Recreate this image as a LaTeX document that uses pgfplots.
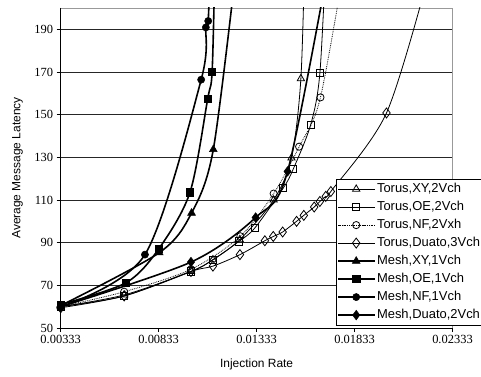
\documentclass[border=0pt]{standalone}
\usepackage{pgfplots}
\pgfplotsset{compat=1.18}
\usepackage{fontspec}
\setmainfont{Liberation Sans}
\newfontfamily\serifnum{Liberation Serif}
\begin{document}
\begin{tikzpicture}
\begin{axis}[
  at={(0,0)}, anchor=south west,
  scale only axis, width=391.8bp, height=320bp,
  xmin=0.00333, xmax=0.02333, ymin=50, ymax=200,
  xtick={0.00333,0.00833,0.01333,0.01833,0.02333},
  xticklabels={0.00333,0.00833,0.01333,0.01833,0.02333},
  scaled x ticks=false,
  ytick={50,70,...,190},
  /pgf/number format/assume math mode=true,
  tick label style={font=\fontsize{12.5}{14}\serifnum},
  tick align=outside, xtick pos=bottom, ytick pos=left,
  major tick length=4bp,
  tick style={black, line width=0.8bp},
  axis line style={draw=black!40, line width=0.8bp},
  ymajorgrids, grid style={black!85, line width=0.8bp},
  xlabel={Injection Rate}, ylabel={Average Message Latency},
  label style={font=\fontsize{12}{14}\selectfont},
  xlabel style={at={(axis description cs:0.5,-0.1125)}, anchor=center},
  ylabel style={at={(axis description cs:-0.11,0.5)}, anchor=center, rotate=0},
  legend style={at={(axis description cs:0.7027,0.4666)}, anchor=north west,
    draw=black, line width=0.8bp, fill=white, inner sep=1bp,
    font=\fontsize{13}{15}\selectfont,
    nodes={inner ysep=2.5bp, text height=10bp, text depth=3bp}},
  legend cell align=left,
  legend image code/.code={\draw[mark repeat=2,mark phase=2,#1] plot coordinates {(0bp,0bp) (18bp,0bp) (36bp,0bp)};},
  every axis plot/.append style={smooth, tension=0.5, black},
]
% Torus XY
\addplot[line width=0.8bp, mark=triangle, mark size=4.2bp, mark options={solid, fill=white, line width=0.8bp}] coordinates {
(0.00333,60) (0.00657,65.5) (0.00998,76.5) (0.0111,82) (0.01247,91.4) (0.0142,110) (0.01511,129.7) (0.01559,166.9) (0.0158,230)};
\addlegendentry{Torus,XY,2Vch}
% Torus OE
\addplot[line width=0.8bp, mark=square, mark size=3.6bp, mark options={solid, fill=white, line width=0.8bp}] coordinates {
(0.00333,60) (0.00657,65) (0.00998,76.5) (0.0111,82) (0.01243,90.6) (0.01324,96.9) (0.01469,115.6) (0.0152,124.5) (0.01609,145.3) (0.01656,169.5) (0.0169,230)};
\addlegendentry{Torus,OE,2Vch}
% Torus NF
\addplot[line width=0.8bp, densely dotted, mark=o, mark size=3.6bp, mark options={solid, fill=white, line width=0.8bp}] coordinates {
(0.00333,60) (0.00657,67) (0.00998,77.5) (0.0125,93) (0.0142,113) (0.0155,135) (0.01659,158.1) (0.0180,230)};
\addlegendentry{Torus,NF,2Vxh}
% Torus Duato
\addplot[line width=0.8bp, mark=diamond, mark size=5bp, mark options={solid, fill=white, line width=0.8bp}] coordinates {
(0.00333,59.5) (0.00657,65) (0.00998,76.5) (0.0111,79) (0.01248,84.4) (0.01375,90.9) (0.01418,92.9) (0.01466,95) (0.01537,100) (0.01574,102.8) (0.01627,106.7) (0.01656,109.3) (0.01686,111.7) (0.01712,114) (0.01996,150.8) (0.0221,215)};
\addlegendentry{Torus,Duato,3Vch}
% Mesh XY
\addplot[line width=1.6bp, mark=triangle*, mark size=4.5bp, mark options={solid, line width=0.5bp}] coordinates {
(0.00333,60.5) (0.00836,85.3) (0.01001,103.9) (0.01112,133.7) (0.0123,220)};
\addlegendentry{Mesh,XY,1Vch}
% Mesh OE
\addplot[line width=1.6bp, mark=square*, mark size=3.6bp, mark options={solid, line width=0.5bp}] coordinates {
(0.00333,61) (0.00666,71.2) (0.00835,87.3) (0.00993,113.6) (0.01083,157.3) (0.01106,170.3) (0.0112,220)};
\addlegendentry{Mesh,OE,1Vch}
% Mesh NF
\addplot[line width=1.6bp, mark=*, mark size=3.6bp, mark options={solid, line width=0.5bp}] coordinates {
(0.00333,60) (0.00763,84.4) (0.0105,166.4) (0.01074,190.9) (0.01086,193.9) (0.0110,230)};
\addlegendentry{Mesh,NF,1Vch}
% Mesh Duato
\addplot[line width=1.6bp, mark=diamond*, mark size=4.8bp, mark options={solid, line width=0.5bp}] coordinates {
(0.00333,60) (0.00998,80.9) (0.01328,101.8) (0.01491,123.4) (0.0172,230)};
\addlegendentry{Mesh,Duato,2Vch}
\end{axis}
\draw[line width=1bp] (0,320bp) -- (0,0) -- (391.8bp,0);
\pgfresetboundingbox
\path[use as bounding box] (-60.7bp,-49bp) rectangle (420.3bp,328bp);
\end{tikzpicture}
\end{document}
